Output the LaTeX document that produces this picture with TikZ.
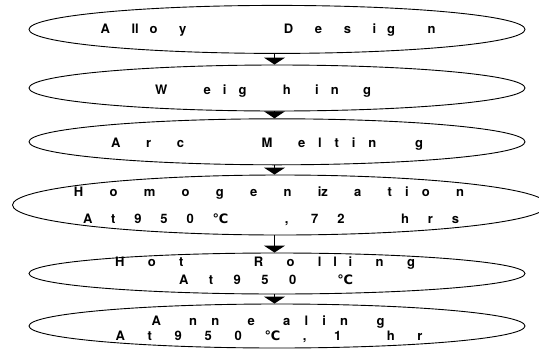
\documentclass[tikz,border=0pt]{standalone}
\usepackage{fontspec}
\setmainfont{TeX Gyre Heros}
\newfontfamily\symfont{DejaVu Sans}
\usetikzlibrary{arrows.meta,shapes.geometric}
\tikzstyle{stage} = [draw, ellipse, line width=0.9pt, inner sep=0pt, minimum width=496pt]
\tikzstyle{caption} = [anchor=base, inner sep=0pt, font={\fontsize{13}{15}\selectfont\bfseries}]
\newcommand{\spread}[2]{\makebox[#1pt][s]{#2}}
\newcommand{\degC}{{\symfont\bfseries ℃}}

\begin{document}
\begin{tikzpicture}[x=1pt, y=-1pt, >={Triangle[width=21pt,length=7pt]}]
\useasboundingbox (0,0) rectangle (539,349);

% process steps
\node [stage, minimum height=48pt] (alloy) at (277,29.4) {};
\node [stage, minimum height=46pt] (weigh) at (277,88) {};
\node [stage, minimum height=46pt] (arc) at (277,141.8) {};
\node [stage, minimum width=535pt, minimum height=60pt] (homog) at (280,205) {};
\node [stage, minimum height=41pt] (rolling) at (277,273.5) {};
\node [stage, minimum height=44pt] (anneal) at (277,326) {};

% labels
\node [caption] (alloytext) at (268,33.3) {\spread{335}{A~ ll o~ y~~~~~~~~ D~ e~ s~ i g~~ n}};
\node [caption] (weightext) at (263,94.5) {\spread{216}{W~~ e i g~~ h~ i n~ g}};
\node [caption] (arctext) at (267,147.2) {\spread{312}{A~ r~ c~~~~~ M~ e l t i n~~ g}};
\node [caption] (homogtext) at (269,196.7) {\spread{390}{H~ o~ m~ o~ g~ e~ n~ iz~ a~ t i o~ n}};
\node [caption] (homogcond) at (271,223.3) {\spread{376}{A t 9 5 0 \degC~~ , 7 2~~ h r s}};
\node [caption] (rolltext) at (265,266.5) {\spread{300}{H~ o~ t~~~~~ R~ o~ l l i~ n~ g}};
\node [caption] (rollcond) at (266,284) {\spread{174}{A t 9 5 0~ \degC}};
\node [caption] (annealtext) at (268,325) {\spread{233}{A~ n n~ e~ a l i n~ g}};
\node [caption] (annealcond) at (269,340.4) {\spread{307}{A t 9 5 0 \degC{} , 1~ h r}};

% flow
\draw [->, line width=1pt] ([xshift=-2.5pt]alloy.south) -- ([xshift=-2.5pt]weigh.north);
\draw [->, line width=1pt] ([xshift=-2.5pt]weigh.south) -- ([xshift=-2.5pt]arc.north);
\draw [->, line width=1pt] ([xshift=-2.5pt]arc.south) -- ([xshift=-2.5pt]arc.south |- homog.north);
\draw [->, line width=1pt] ([xshift=-2.5pt]homog.south -| rolling.north) -- ([xshift=-2.5pt]rolling.north);
\draw [->, line width=1pt] ([xshift=-2.5pt]rolling.south) -- ([xshift=-2.5pt]anneal.north);

\end{tikzpicture}
\end{document}
